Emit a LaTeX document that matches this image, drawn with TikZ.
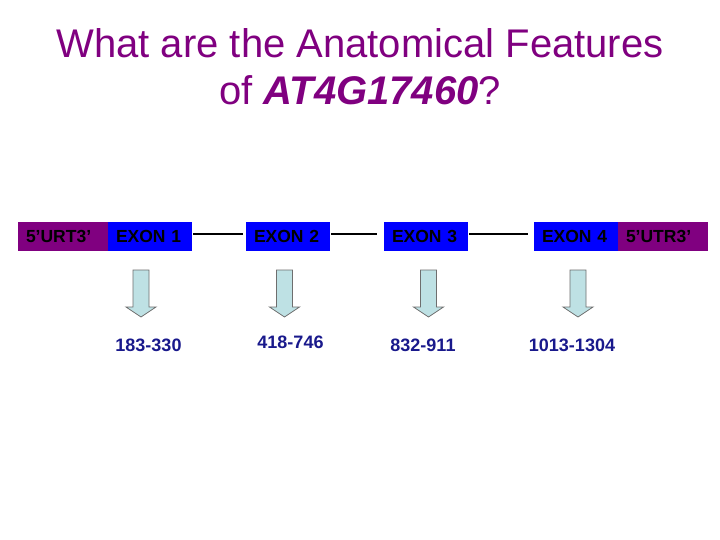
\documentclass[tikz,border=0pt]{standalone}
\usepackage{fontspec}
\setmainfont{Liberation Sans}
\definecolor{ttlpurple}{RGB}{128,0,128}
\definecolor{boxpurple}{RGB}{128,0,128}
\definecolor{boxblue}{RGB}{0,0,255}
\definecolor{numblue}{RGB}{25,25,140}
\definecolor{arrowfill}{RGB}{190,225,228}
\definecolor{arrowline}{RGB}{110,110,110}
\tikzset{
  title/.style={text=ttlpurple, font=\fontsize{40}{48}\selectfont, anchor=base, inner sep=0pt},
  segbox/.style={minimum height=29pt, inner xsep=8pt, inner ysep=0pt, align=left,
                 font=\fontsize{17.5}{20}\selectfont\bfseries, text=black, outer sep=0pt},
  exonbox/.style={segbox, fill=boxblue, text width=68pt},
  utrbox/.style={segbox, fill=boxpurple, text width=74pt},
  intron/.style={line width=1.8pt, black},
  numlabel/.style={text=numblue, font=\fontsize{18}{20}\selectfont\bfseries, anchor=base, inner sep=0pt},
  blockarrow/.style={fill=arrowfill, draw=arrowline, line width=0.8pt, line join=miter},
  downarrow/.pic={\draw[blockarrow] (-8,0) -- (8,0) -- (8,37) -- (15,37) -- (0,47) -- (-15,37) -- (-8,37) -- cycle;}
}
\begin{document}
\begin{tikzpicture}[x=1pt, y=-1pt]
\fill[white] (0,0) rectangle (720,540);
\useasboundingbox (0,0) rectangle (720,540);

% title
\node[title] (t1) at (360,58) {What are the Anatomical Features};
\node[title] (t2) at (360,105) {of \textbf{\textit{AT4G17460}}?};

% gene model
\node[utrbox, anchor=west] (u5) at (18,236.5) {5’URT3’};
\node[exonbox, anchor=west] (e1) at (u5.east) {EXON 1};
\node[exonbox, anchor=west] (e2) at (246,236.5) {EXON 2};
\node[exonbox, anchor=west] (e3) at (384,236.5) {EXON 3};
\node[exonbox, anchor=west] (e4) at (534,236.5) {EXON 4};
\node[utrbox, anchor=west] (u3) at (e4.east) {5’UTR3’};

% introns
\draw[intron, shorten <=1pt, shorten >=3pt] ([yshift=2.5pt]e1.east) -- ([yshift=2.5pt]e2.west);
\draw[intron, shorten <=1pt, shorten >=7pt] ([yshift=2.5pt]e2.east) -- ([yshift=2.5pt]e3.west);
\draw[intron, shorten <=1pt, shorten >=6pt] ([yshift=2.5pt]e3.east) -- ([yshift=2.5pt]e4.west);

% arrows
\pic at (141,270) {downarrow};
\pic at (284.5,270) {downarrow};
\pic at (428.5,270) {downarrow};
\pic at (578,270) {downarrow};

% coordinates
\node[numlabel] (n1) at (148.5,351) {183-330};
\node[numlabel] (n2) at (290.5,348) {418-746};
\node[numlabel] (n3) at (423,351) {832-911};
\node[numlabel] (n4) at (572,351) {1013-1304};
\end{tikzpicture}
\end{document}
